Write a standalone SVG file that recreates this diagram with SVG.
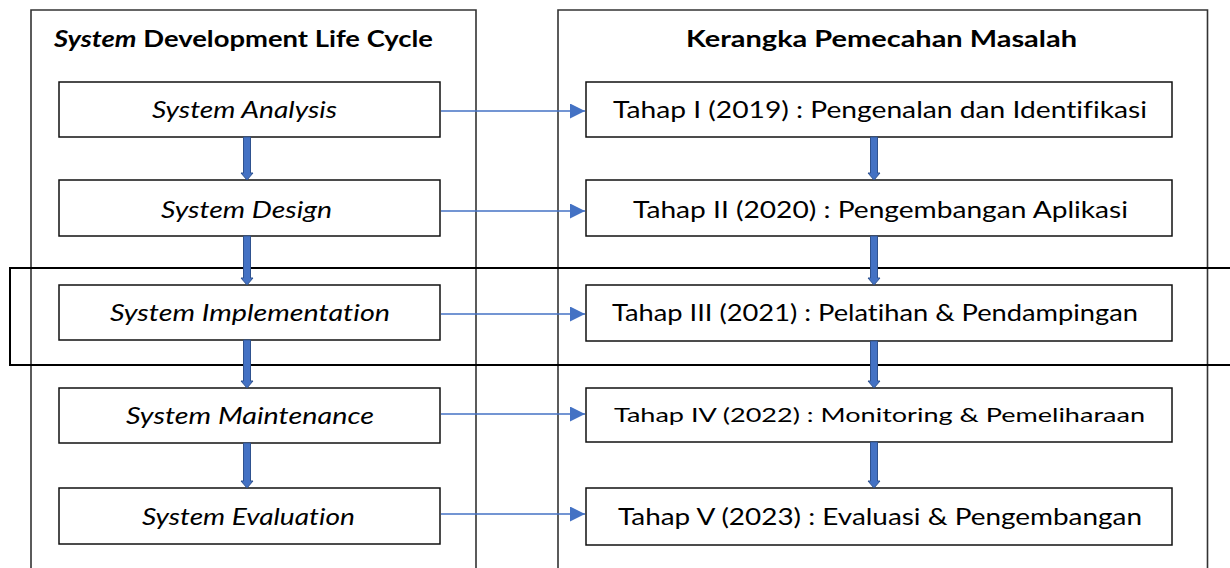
<svg xmlns="http://www.w3.org/2000/svg" width="1230" height="568" viewBox="0 0 1230 568">
<style>
text{font-variant-ligatures:none;font-feature-settings:"liga" 0,"dlig" 0,"clig" 0}
.cont{fill:none;stroke:#333;stroke-width:1.6}
.hl{fill:none;stroke:#000;stroke-width:2}
.node{fill:#fff;stroke:#111;stroke-width:1.5}
.title{font-family:Lato,"Open Sans","Liberation Sans",sans-serif;font-weight:bold;font-size:22.5px;fill:#000}
.lt{font-family:Lato,"Open Sans","Liberation Sans",sans-serif;font-style:italic;font-size:23px;fill:#000}
.rt{font-family:Lato,"Open Sans","Liberation Sans",sans-serif;font-size:23px;fill:#000}
.rts{font-family:Lato,"Open Sans","Liberation Sans",sans-serif;font-size:20px;fill:#000}
.link{stroke:#4472C4;stroke-width:1.6;fill:none}
.down{fill:#4472C4;stroke:#2F528F;stroke-width:1}
</style>
<defs>
<marker id="tri" viewBox="0 0 10 10" refX="10" refY="5" markerWidth="15" markerHeight="15" markerUnits="userSpaceOnUse" orient="auto">
<path d="M0,0 L10,5 L0,10 z" fill="#4472C4"/>
</marker>
</defs>
<rect width="1230" height="568" fill="#fff"/>
<g id="left-container">
<path class="cont" d="M31,580 V10 H476 V580"/>
<text class="title" x="243.5" y="47" text-anchor="middle" textLength="379" lengthAdjust="spacingAndGlyphs"><tspan font-style="italic">System</tspan> Development Life Cycle</text>
</g>
<g id="right-container">
<path class="cont" d="M558,580 V10 H1207.5 V580"/>
<text class="title" x="881.5" y="47" text-anchor="middle" textLength="391" lengthAdjust="spacingAndGlyphs">Kerangka Pemecahan Masalah</text>
</g>
<g id="highlight">
<path class="hl" d="M1240,268 H10 V365 H1240"/>
</g>
<g id="sdlc1"><rect class="node" x="59" y="82" width="381" height="55"/><text class="lt" x="244.5" y="118" text-anchor="middle" textLength="185" lengthAdjust="spacingAndGlyphs">System Analysis</text></g>
<g id="sdlc2"><rect class="node" x="59" y="180" width="381" height="56"/><text class="lt" x="246.5" y="218" text-anchor="middle" textLength="171" lengthAdjust="spacingAndGlyphs">System Design</text></g>
<g id="sdlc3"><rect class="node" x="59" y="285" width="381" height="55"/><text class="lt" x="250" y="321" text-anchor="middle" textLength="280" lengthAdjust="spacingAndGlyphs">System Implementation</text></g>
<g id="sdlc4"><rect class="node" x="59" y="388" width="381" height="55"/><text class="lt" x="250" y="424" text-anchor="middle" textLength="248" lengthAdjust="spacingAndGlyphs">System Maintenance</text></g>
<g id="sdlc5"><rect class="node" x="59" y="488" width="381" height="56"/><text class="lt" x="248.5" y="525" text-anchor="middle" textLength="213" lengthAdjust="spacingAndGlyphs">System Evaluation</text></g>
<g id="tahap1"><rect class="node" x="586" y="82" width="586" height="55"/><text class="rt" x="880" y="118" text-anchor="middle" textLength="534" lengthAdjust="spacingAndGlyphs">Tahap I (2019) : Pengenalan dan Identifikasi</text></g>
<g id="tahap2"><rect class="node" x="586" y="180" width="586" height="56"/><text class="rt" x="880.5" y="218" text-anchor="middle" textLength="495" lengthAdjust="spacingAndGlyphs">Tahap II (2020) : Pengembangan Aplikasi</text></g>
<g id="tahap3"><rect class="node" x="586" y="285" width="586" height="56"/><text class="rt" x="875" y="321" text-anchor="middle" textLength="526" lengthAdjust="spacingAndGlyphs">Tahap III (2021) : Pelatihan &amp; Pendampingan</text></g>
<g id="tahap4"><rect class="node" x="586" y="388" width="586" height="54"/><text class="rts" x="879.5" y="422" text-anchor="middle" textLength="531" lengthAdjust="spacingAndGlyphs">Tahap IV (2022) : Monitoring &amp; Pemeliharaan</text></g>
<g id="tahap5"><rect class="node" x="586" y="488" width="586" height="57"/><text class="rt" x="880" y="525" text-anchor="middle" textLength="524" lengthAdjust="spacingAndGlyphs">Tahap V (2023) : Evaluasi &amp; Pengembangan</text></g>
<g id="connectors">
<line class="link" x1="441" y1="111" x2="585" y2="111" marker-end="url(#tri)"/>
<line class="link" x1="441" y1="211" x2="585" y2="211" marker-end="url(#tri)"/>
<line class="link" x1="441" y1="314" x2="585" y2="314" marker-end="url(#tri)"/>
<line class="link" x1="441" y1="414" x2="585" y2="414" marker-end="url(#tri)"/>
<line class="link" x1="441" y1="514" x2="585" y2="514" marker-end="url(#tri)"/>
<path class="down" d="M243.5,137 H250.5 V173 H253 L247,180 L241,173 H243.5 Z"/>
<path class="down" d="M243.5,236 H250.5 V278 H253 L247,285 L241,278 H243.5 Z"/>
<path class="down" d="M243.5,340 H250.5 V381 H253 L247,388 L241,381 H243.5 Z"/>
<path class="down" d="M243.5,443 H250.5 V481 H253 L247,488 L241,481 H243.5 Z"/>
<path class="down" d="M870.5,137 H877.5 V173 H880 L874,180 L868,173 H870.5 Z"/>
<path class="down" d="M870.5,236 H877.5 V278 H880 L874,285 L868,278 H870.5 Z"/>
<path class="down" d="M870.5,341 H877.5 V381 H880 L874,388 L868,381 H870.5 Z"/>
<path class="down" d="M870.5,442 H877.5 V481 H880 L874,488 L868,481 H870.5 Z"/>
</g>
</svg>
